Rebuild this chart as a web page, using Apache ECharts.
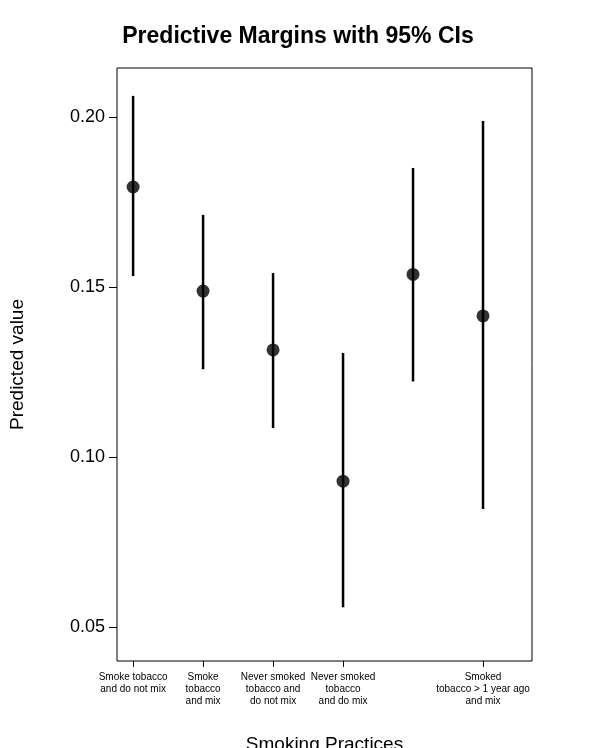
<!DOCTYPE html>
<html><head><meta charset="utf-8">
<script src="https://cdn.jsdelivr.net/npm/echarts@6/dist/echarts.min.js"></script>
<style>html,body{margin:0;padding:0;background:#fff}#c{width:596px;height:748px}</style>
</head><body><div id="c"></div>
<script>
const categories = ["Smoke tobacco\nand do not mix","Smoke\ntobacco\nand mix","Never smoked\ntobacco and\ndo not mix","Never smoked\ntobacco\nand do mix","Smoked\ntobacco\n> 1 year ago\nand do not mix","Smoked\ntobacco > 1 year ago\nand mix"];
const margins = [0.1794, 0.1488, 0.1315, 0.0929, 0.1537, 0.1415];
const lower = [0.1532, 0.1258, 0.1085, 0.0558, 0.1222, 0.0847];
const upper = [0.2062, 0.1712, 0.1541, 0.1306, 0.1850, 0.1988];
const yTicks = [0.05, 0.10, 0.15, 0.20];

const pos = categories.map((_, i) => i + 1);
const chart = echarts.init(document.getElementById('c'));
chart.setOption({
  animation: false,
  title: {text: 'Predictive Margins with 95% CIs', left: 'center', top: 20,
    textStyle: {fontFamily: 'Liberation Sans', fontWeight: 'bold', fontSize: 23, color: '#000'}},
  grid: {left: 117, right: 64, top: 68, bottom: 87, show: true, borderColor: '#000', borderWidth: 1,
    outerBoundsMode: 'none', containLabel: false},
  xAxis: {type: 'value', min: 0.77, max: 6.70,
    name: 'Smoking Practices', nameLocation: 'middle', nameGap: 74,
    nameTextStyle: {fontFamily: 'Liberation Sans', fontSize: 19, color: '#000'},
    axisLine: {show: false}, splitLine: {show: false},
    axisTick: {show: true, customValues: pos, length: 6, lineStyle: {color: '#000'}},
    axisLabel: {customValues: pos, formatter: v => categories[Math.round(v) - 1] || '',
      hideOverlap: false, showMaxLabel: true, showMinLabel: true,
      fontFamily: 'Liberation Sans', fontSize: 10, color: '#000', lineHeight: 12, margin: 10}},
  yAxis: {type: 'value', min: 0.04, max: 0.2144,
    name: 'Predicted value', nameLocation: 'middle', nameGap: 90,
    nameTextStyle: {fontFamily: 'Liberation Sans', fontSize: 19, color: '#000'},
    axisLine: {show: false}, splitLine: {show: false},
    axisTick: {show: true, customValues: yTicks, length: 8, lineStyle: {color: '#000'}},
    axisLabel: {customValues: yTicks, formatter: v => v.toFixed(2),
      fontFamily: 'Liberation Sans', fontSize: 18, color: '#000', margin: 12}},
  series: [
    {type: 'custom', data: pos.map((p, i) => [p, lower[i], upper[i]]),
      renderItem: (params, api) => {
        const a = api.coord([api.value(0), api.value(1)]);
        const b = api.coord([api.value(0), api.value(2)]);
        return {type: 'line', shape: {x1: a[0], y1: a[1], x2: b[0], y2: b[1]},
          style: {stroke: '#000', lineWidth: 2.5}};
      }},
    {type: 'scatter', data: pos.map((p, i) => [p, margins[i]]), symbolSize: 13,
      itemStyle: {color: '#000'}}
  ]
});
</script></body></html>
